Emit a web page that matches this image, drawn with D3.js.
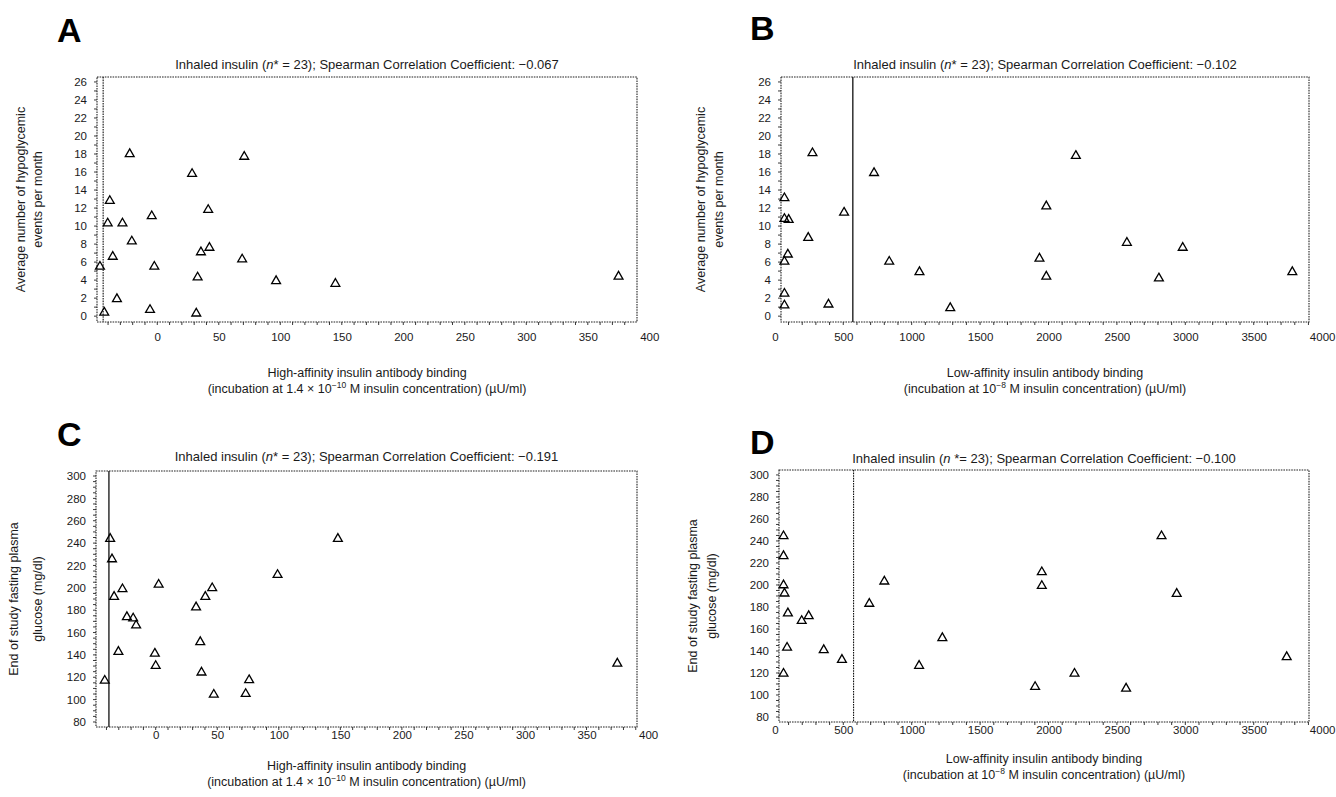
<!DOCTYPE html>
<html><head><meta charset="utf-8">
<script src="https://cdn.jsdelivr.net/npm/d3@7"></script>
<style>
html,body{margin:0;padding:0;background:#fff;}
svg{display:block;font-family:"Liberation Sans",Arial,sans-serif;}
</style></head><body>
<svg id="chart" width="1336" height="797"></svg>
<script>
// ---------------- data ----------------
const aX = [-22.4, 70.7, 28.3, -38.6, 41.4, -4.5, -40.3, -28.3, -20.7, 35.5, 42.4, -36.2, 69, -46.6, -2.4, 32.8, 96.6, 144.8, 375, -32.8, -43.1, -5.9, 31.7];
const aY = [18.0, 17.7, 15.8, 12.8, 11.8, 11.1, 10.3, 10.3, 8.3, 7.1, 7.6, 6.6, 6.3, 5.5, 5.5, 4.3, 3.9, 3.6, 4.4, 1.9, 0.4, 0.7, 0.3];

const bX = [275, 2200, 725, 70, 1984, 506, 70, 101, 244, 2573, 2981, 95, 1934, 70, 836, 1057, 1984, 2807, 3782, 70, 70, 392, 1282];
const bY = [18.1, 17.8, 15.9, 13.1, 12.2, 11.5, 10.8, 10.7, 8.7, 8.15, 7.6, 6.85, 6.4, 6.05, 6.05, 4.9, 4.4, 4.2, 4.9, 2.5, 1.2, 1.3, 0.9];

const cX = [-37, 148, -35.5, 99, 2.4, -27, 45.9, -33.8, 40.3, 32.8, -23.4, -18.3, -15.9, 36.2, -30.3, -0.7, 0, 37.2, -41.4, 75.9, 47.2, 73.1, 375];
const cY = [243.9, 243.9, 225.6, 211.6, 202.9, 198.8, 199.7, 192, 192, 182.6, 173.9, 172.7, 166.4, 151.5, 142.8, 141.2, 130.2, 124.3, 117, 117.5, 104.5, 105.1, 132.3];

const dX = [63, 63, 63, 70, 95, 196, 247, 89, 357, 490, 800, 690, 1224, 1951, 1951, 2826, 2937, 3741, 63, 1054, 1902, 2190, 2567];
const dY = [244.4, 226.3, 199.8, 192.3, 174.3, 167.4, 171.8, 143.1, 140.9, 132, 203.2, 183, 151.8, 211.7, 199.2, 244.4, 192, 134.5, 119.4, 126.6, 107.4, 119.4, 105.9];

const highTicks = [0, 50, 100, 150, 200, 250, 300, 350, 400];
const lowTicks = [0, 500, 1000, 1500, 2000, 2500, 3000, 3500, 4000];
const hypoTicks = [0, 2, 4, 6, 8, 10, 12, 14, 16, 18, 20, 22, 24, 26];
const glucTicks = [80, 100, 120, 140, 160, 180, 200, 220, 240, 260, 280, 300];

const cutoffs = {A: -44, B: 570, C: -38, D: 575};
const coefs = {A: "\u22120.067", B: "\u22120.102", C: "\u22120.191", D: "\u22120.100"};

// ---------------- drawing ----------------
const svg = d3.select("#chart");
const ink = "#1a1a1a";

function panel(cfg) {
  const g = svg.append("g");
  const x = d3.scaleLinear().domain(cfg.xDom).range([cfg.x0, cfg.x1]);
  const y = d3.scaleLinear().domain(cfg.yDom).range([cfg.y1, cfg.y0]);

  g.append("text").attr("x", cfg.lx).attr("y", cfg.ly)
    .attr("font-size", 34).attr("font-weight", "bold").attr("fill", "#000")
    .text(cfg.letter);

  const t = g.append("text").attr("x", (cfg.x0 + cfg.x1) / 2).attr("y", cfg.ty)
    .attr("text-anchor", "middle").attr("font-size", 13).attr("fill", ink);
  t.append("tspan").text("Inhaled insulin (");
  t.append("tspan").attr("font-style", "italic").text("n");
  t.append("tspan").text(cfg.nText + "); Spearman Correlation Coefficient: " + cfg.coef);

  g.append("rect").attr("x", cfg.x0).attr("y", cfg.y0)
    .attr("width", cfg.x1 - cfg.x0).attr("height", cfg.y1 - cfg.y0)
    .attr("fill", "none").attr("stroke", "#222").attr("stroke-width", 1.1)
    .attr("stroke-dasharray", "1.6,1");

  const xMinor = d3.range(cfg.xMinorStart, cfg.xDom[1], cfg.xMinorStep);
  g.selectAll(null).data(xMinor).join("line")
    .attr("x1", d => x(d)).attr("x2", d => x(d))
    .attr("y1", cfg.y1).attr("y2", cfg.y1 + 3)
    .attr("stroke", "#222").attr("stroke-width", 0.9);
  const yMinor = d3.range(Math.ceil(cfg.yDom[0] / cfg.yMinorStep) * cfg.yMinorStep, cfg.yDom[1], cfg.yMinorStep);
  g.selectAll(null).data(yMinor).join("line")
    .attr("x1", cfg.x0 - 3).attr("x2", cfg.x0)
    .attr("y1", d => y(d)).attr("y2", d => y(d))
    .attr("stroke", "#222").attr("stroke-width", 0.9);

  const xa = d3.axisBottom(x).tickValues(cfg.xTicks).tickSize(0).tickFormat(d3.format("d"));
  const xg = g.append("g").attr("transform", `translate(0,${cfg.xlY})`).call(xa);
  xg.select(".domain").remove();
  xg.selectAll("text").attr("font-size", 11.5).attr("fill", ink)
    .attr("font-family", "Liberation Sans, Arial, sans-serif").attr("dy", 0);

  const ya = d3.axisLeft(y).tickValues(cfg.yTicks).tickSize(0).tickPadding(10).tickFormat(d3.format("d"));
  const yg = g.append("g").attr("transform", `translate(${cfg.x0},0)`).call(ya);
  yg.select(".domain").remove();
  yg.selectAll("text").attr("font-size", 11.5).attr("fill", ink)
    .attr("font-family", "Liberation Sans, Arial, sans-serif");

  g.append("line").attr("x1", x(cfg.cut)).attr("x2", x(cfg.cut))
    .attr("y1", cfg.y0).attr("y2", cfg.y1)
    .attr("stroke", "#111").attr("stroke-width", cfg.cutDotted ? 1.1 : 1.3)
    .attr("stroke-dasharray", cfg.cutDotted ? "1.6,1" : null);

  const tri = d3.symbol().type(d3.symbolTriangle).size(34);
  g.selectAll(null).data(cfg.xs.map((v, i) => [v, cfg.ys[i]])).join("path")
    .attr("d", tri)
    .attr("transform", d => `translate(${x(d[0])},${y(d[1])})`)
    .attr("fill", "none").attr("stroke", "#000").attr("stroke-width", 1.3);

  const cx = (cfg.x0 + cfg.x1) / 2;
  g.append("text").attr("x", cx).attr("y", cfg.xt1).attr("text-anchor", "middle")
    .attr("font-size", 12.5).attr("fill", ink).text(cfg.xTitle1);
  const l2 = g.append("text").attr("x", cx).attr("y", cfg.xt1 + 16).attr("text-anchor", "middle")
    .attr("font-size", 12.5).attr("fill", ink);
  l2.append("tspan").text(cfg.xTitle2a);
  l2.append("tspan").attr("font-size", 8.5).attr("dy", -5).text(cfg.xTitleSup);
  l2.append("tspan").attr("dy", 5).text(cfg.xTitle2b);

  const cy = (cfg.y0 + cfg.y1) / 2;
  g.append("text").attr("transform", `translate(${cfg.yt1},${cy}) rotate(-90)`)
    .attr("text-anchor", "middle").attr("font-size", 12.5).attr("fill", ink).text(cfg.yTitle1);
  g.append("text").attr("transform", `translate(${cfg.yt2},${cy}) rotate(-90)`)
    .attr("text-anchor", "middle").attr("font-size", 12.5).attr("fill", ink).text(cfg.yTitle2);
}

const hiT1 = "High-affinity insulin antibody binding";
const loT1 = "Low-affinity insulin antibody binding";

panel({letter: "A", lx: 57, ly: 42, ty: 69, nText: "* = 23", coef: coefs.A,
  x0: 97, x1: 637, y0: 77, y1: 322, xDom: [-49, 390], yDom: [-0.65, 26.55],
  xTicks: highTicks, yTicks: hypoTicks, xMinorStart: -40, xMinorStep: 10, yMinorStep: 1,
  xlY: 338, cut: cutoffs.A, cutDotted: true, xs: aX, ys: aY,
  xt1: 377, xTitle1: hiT1, xTitle2a: "(incubation at 1.4 \u00d7 10", xTitleSup: "\u221210",
  xTitle2b: " M insulin concentration) (\u00b5U/ml)",
  yt1: 25, yt2: 42, yTitle1: "Average number of hypoglycemic", yTitle2: "events per month"});

panel({letter: "B", lx: 750, ly: 40, ty: 69, nText: "* = 23", coef: coefs.B,
  x0: 781, x1: 1309, y0: 77, y1: 322, xDom: [45, 3904], yDom: [-0.65, 26.55],
  xTicks: lowTicks, yTicks: hypoTicks, xMinorStart: 100, xMinorStep: 100, yMinorStep: 1,
  xlY: 338, cut: cutoffs.B, cutDotted: false, xs: bX, ys: bY,
  xt1: 377, xTitle1: loT1, xTitle2a: "(incubation at 10", xTitleSup: "\u22128",
  xTitle2b: " M insulin concentration) (\u00b5U/ml)",
  yt1: 705, yt2: 723, yTitle1: "Average number of hypoglycemic", yTitle2: "events per month"});

panel({letter: "C", lx: 57, ly: 446, ty: 461, nText: "* = 23", coef: coefs.C,
  x0: 96, x1: 637, y0: 471, y1: 727, xDom: [-48.5, 391], yDom: [75.5, 304.5],
  xTicks: highTicks, yTicks: glucTicks, xMinorStart: -40, xMinorStep: 10, yMinorStep: 5,
  xlY: 736, cut: cutoffs.C, cutDotted: false, xs: cX, ys: cY,
  xt1: 770, xTitle1: hiT1, xTitle2a: "(incubation at 1.4 \u00d7 10", xTitleSup: "\u221210",
  xTitle2b: " M insulin concentration) (\u00b5U/ml)",
  yt1: 18, yt2: 42, yTitle1: "End of study fasting plasma", yTitle2: "glucose (mg/dl)"});

panel({letter: "D", lx: 750, ly: 454, ty: 463, nText: " *= 23", coef: coefs.D,
  x0: 779, x1: 1309, y0: 470, y1: 722, xDom: [30, 3904], yDom: [75.45, 304.5],
  xTicks: lowTicks, yTicks: glucTicks, xMinorStart: 100, xMinorStep: 100, yMinorStep: 5,
  xlY: 731, cut: cutoffs.D, cutDotted: true, xs: dX, ys: dY,
  xt1: 763, xTitle1: loT1, xTitle2a: "(incubation at 10", xTitleSup: "\u22128",
  xTitle2b: " M insulin concentration) (\u00b5U/ml)",
  yt1: 697, yt2: 716, yTitle1: "End of study fasting plasma", yTitle2: "glucose (mg/dl)"});
</script>
</body></html>
